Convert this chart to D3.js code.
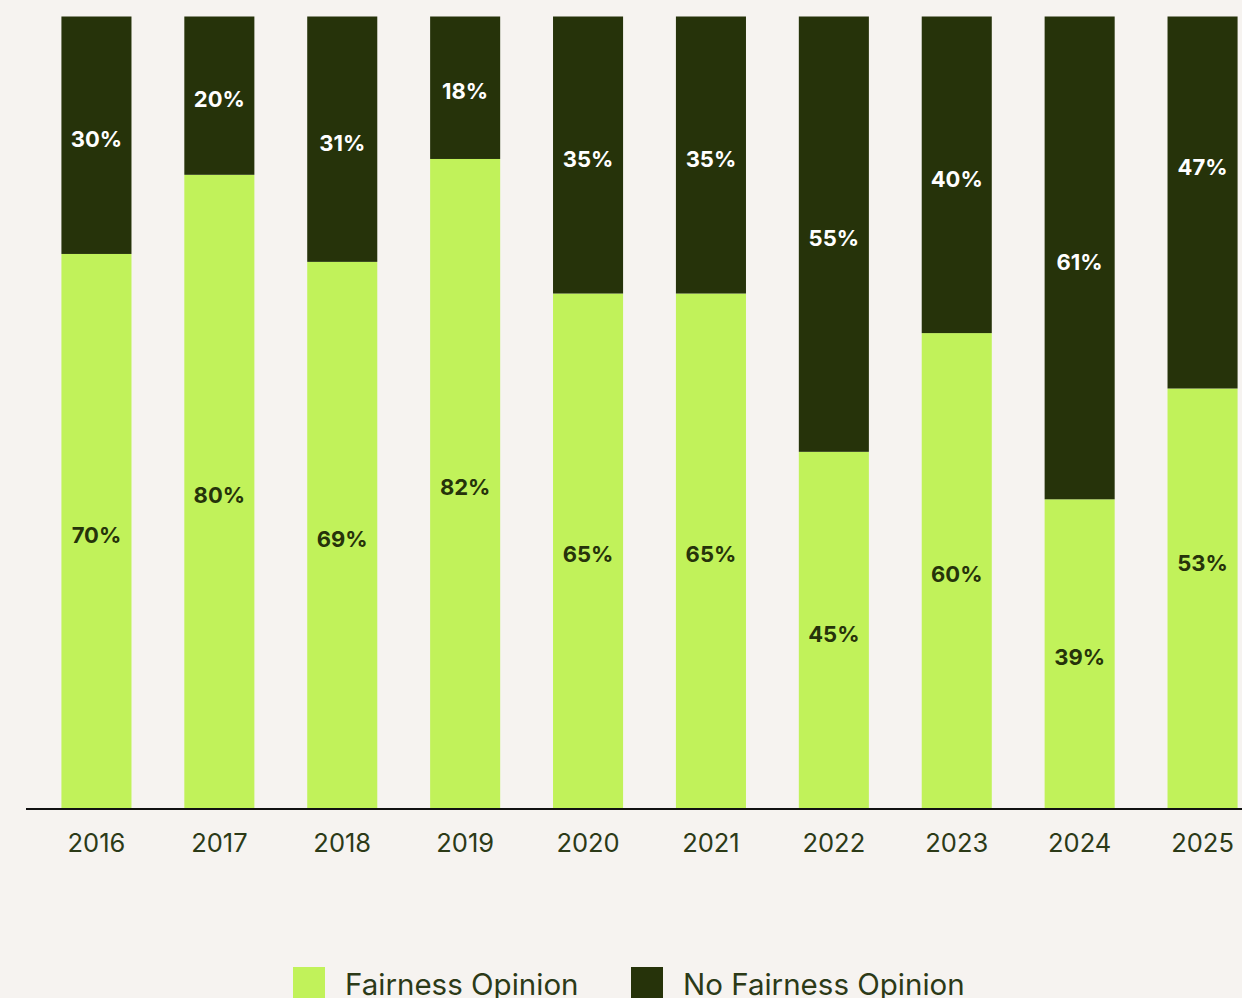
<!DOCTYPE html>
<html>
<head>
<meta charset="utf-8">
<script src="https://cdn.jsdelivr.net/npm/d3@7"></script>
<style>
  html, body { margin: 0; padding: 0; background: #f6f3f0; }
  svg { display: block; }
</style>
</head>
<body>
<svg id="canvas" width="1242" height="998"></svg>
<script>
var years = ['2016', '2017', '2018', '2019', '2020', '2021', '2022', '2023', '2024', '2025'];
var fairness = [70, 80, 69, 82, 65, 65, 45, 60, 39, 53];
var noFairness = [30, 20, 31, 18, 35, 35, 55, 40, 61, 47];
var seriesNames = ['Fairness Opinion', 'No Fairness Opinion'];

var GREEN = '#c1f25a',
    DARK = '#26330a',
    TEXT = '#2c3a17';

// the source nudges the last bar's labels upward
var labelNudge = { '2025': -39 };

var svg = d3.select('#canvas'),
    W = 1242, H = 998;

svg.append('rect').attr('width', W).attr('height', H).attr('fill', '#f6f3f0');

var x = d3.scaleBand()
    .domain(years)
    .range([35, 1264])
    .paddingInner(0.43)
    .paddingOuter(0.215);

var y = d3.scaleLinear()
    .domain([0, 100])
    .range([808, 16.5]);

// stack the two series
var rows = years.map(function(yr, i) {
    return { year: yr, fair: fairness[i], no: noFairness[i] };
});
var stack = d3.stack().keys(['fair', 'no']);
var layers = stack(rows);
var colors = { fair: GREEN, no: DARK };
var labelColors = { fair: DARK, no: '#ffffff' };

var layer = svg.selectAll('g.layer')
    .data(layers)
  .enter().append('g')
    .attr('class', 'layer')
    .attr('fill', function(d) { return colors[d.key]; });

layer.selectAll('rect')
    .data(function(d) { return d; })
  .enter().append('rect')
    .attr('x', function(d) { return x(d.data.year); })
    .attr('width', x.bandwidth())
    .attr('y', function(d) { return y(d[1]); })
    .attr('height', function(d) { return y(d[0]) - y(d[1]); });

// value labels, centred in each segment
layers.forEach(function(l) {
    svg.append('g')
        .selectAll('text')
        .data(l)
      .enter().append('text')
        .attr('x', function(d) { return x(d.data.year) + x.bandwidth() / 2; })
        .attr('y', function(d) {
            return (y(d[0]) + y(d[1])) / 2 + 4 + (labelNudge[d.data.year] || 0);
        })
        .attr('dy', '0.35em')
        .attr('text-anchor', 'middle')
        .attr('fill', labelColors[l.key])
        .style('font-family', 'Inter, "Noto Sans", sans-serif')
        .style('font-weight', 700)
        .style('font-size', '22px')
        .text(function(d) { return (d.data[l.key]) + '%'; });
});

// x axis
var axis = svg.append('g')
    .attr('transform', 'translate(0,809)')
    .call(d3.axisBottom(x).tickSize(0).tickPadding(25));
axis.select('.domain').remove();
axis.append('line')
    .attr('x1', 26).attr('x2', W)
    .attr('y1', 0).attr('y2', 0)
    .attr('stroke', '#111')
    .attr('stroke-width', 2);
axis.selectAll('.tick text')
    .attr('fill', TEXT)
    .style('font-family', 'Inter, "Noto Sans", sans-serif')
    .style('font-size', '25.5px');

// legend
var legendX = [293, 631];
var legend = svg.append('g').attr('class', 'legend');
seriesNames.forEach(function(name, i) {
    var g = legend.append('g').attr('transform', 'translate(' + legendX[i] + ',967)');
    g.append('rect')
        .attr('width', 32).attr('height', 40)
        .attr('fill', i === 0 ? GREEN : DARK);
    g.append('text')
        .attr('x', 52).attr('y', 28)
        .attr('fill', TEXT)
        .style('font-family', 'Inter, "Noto Sans", sans-serif')
        .style('font-size', '29.5px')
        .text(name);
});
</script>
</body>
</html>
